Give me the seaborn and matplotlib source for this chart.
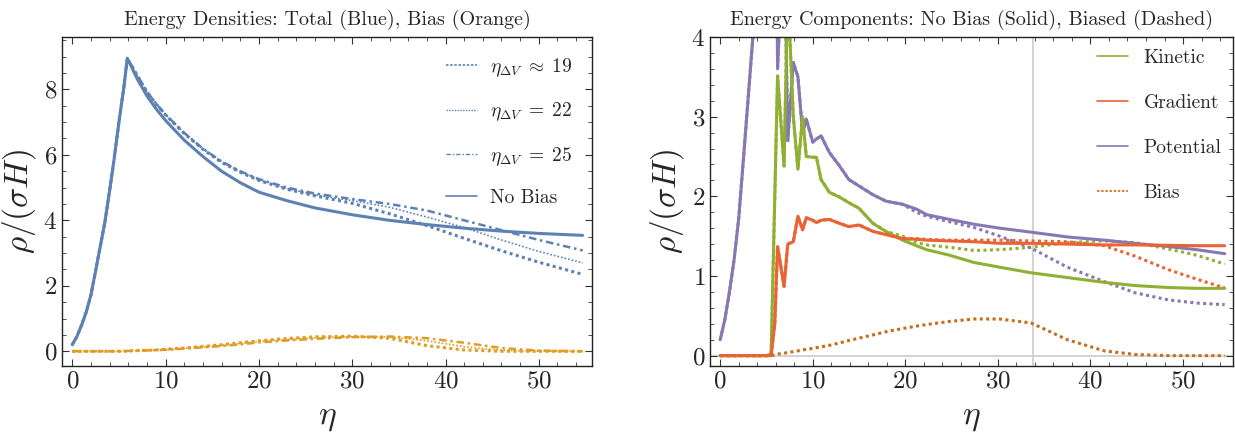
import numpy as np
import pandas as pd
import matplotlib
matplotlib.use("Agg")
import matplotlib.pyplot as plt
import seaborn as sns
from matplotlib.lines import Line2D
from matplotlib.ticker import MultipleLocator

# ---------------- data: left panel ----------------
eta_l = [0, 0.5, 1, 1.5, 2, 2.5, 3, 3.5, 4, 4.5, 5, 5.5, 5.9, 7, 8, 9, 10, 12, 14, 16, 18, 20,
         23, 26, 30, 34, 38, 42, 46, 50, 54.7]
tot_nobias = [0.2, 0.45, 0.8, 1.2, 1.72, 2.45, 3.2, 3.95, 4.9, 5.9, 7.0, 8.0, 8.95, 8.3, 7.8, 7.4,
              7.05, 6.45, 5.95, 5.5, 5.15, 4.86, 4.6, 4.38, 4.17, 4.0, 3.87, 3.76, 3.67, 3.6, 3.54]
tot_19 = [0.2, 0.45, 0.8, 1.2, 1.72, 2.45, 3.2, 3.95, 4.9, 5.9, 7.0, 8.0, 8.95, 8.4, 7.92, 7.55,
          7.22, 6.65, 6.17, 5.77, 5.47, 5.22, 4.95, 4.75, 4.52, 4.2, 3.84, 3.45, 3.07, 2.72, 2.35]
tot_22 = [0.2, 0.45, 0.8, 1.2, 1.72, 2.45, 3.2, 3.95, 4.9, 5.9, 7.0, 8.0, 8.95, 8.42, 7.93, 7.56,
          7.23, 6.67, 6.19, 5.79, 5.49, 5.24, 4.97, 4.78, 4.6, 4.4, 4.1, 3.78, 3.4, 3.05, 2.7]
tot_25 = [0.2, 0.45, 0.8, 1.2, 1.72, 2.45, 3.2, 3.95, 4.9, 5.9, 7.0, 8.0, 8.95, 8.42, 7.93, 7.56,
          7.23, 6.67, 6.19, 5.8, 5.5, 5.26, 5.0, 4.82, 4.65, 4.5, 4.3, 4.0, 3.7, 3.4, 3.08]
bias_19 = [0, 0, 0, 0, 0, 0, 0, 0, 0, 0, 0, 0, 0.01, 0.02, 0.03, 0.04, 0.06, 0.1, 0.15, 0.2, 0.26,
           0.32, 0.39, 0.44, 0.46, 0.4, 0.17, 0.04, 0.0, 0, 0]
bias_22 = [0, 0, 0, 0, 0, 0, 0, 0, 0, 0, 0, 0, 0.01, 0.02, 0.03, 0.04, 0.05, 0.09, 0.13, 0.18, 0.24,
           0.3, 0.36, 0.41, 0.45, 0.44, 0.32, 0.14, 0.03, 0, 0]
bias_25 = [0, 0, 0, 0, 0, 0, 0, 0, 0, 0, 0, 0, 0.01, 0.015, 0.025, 0.035, 0.045, 0.08, 0.12, 0.16,
           0.21, 0.27, 0.33, 0.38, 0.43, 0.45, 0.4, 0.26, 0.1, 0.02, 0]
legend_left = [r"$\eta_{\Delta V}\;\approx\;19$", r"$\eta_{\Delta V}\;=\;22$",
               r"$\eta_{\Delta V}\;=\;25$", "No Bias"]

# ---------------- data: right panel ----------------
eta_r = [0, 0.5, 1, 1.5, 2, 2.5, 3, 3.5, 4, 4.5, 5, 5.5, 5.9, 6.2, 6.9, 7.3, 7.9, 8.4, 8.9, 9.3,
         10.0, 10.4, 10.9, 11.8, 12.9, 13.9, 15, 16.5, 17.9, 19.7, 21.2, 22.3, 24.8, 27.4, 30.2,
         33.6, 37.5, 41.5, 44.8, 48.4, 51.5, 54.5]
kin = [0, 0, 0, 0, 0, 0, 0, 0, 0, 0, 0, 0.02, 2.0, 3.51, 2.38, 4.6, 3.0, 2.34, 3.0, 2.5,
       2.49, 2.49, 2.21, 2.05, 1.99, 1.92, 1.85, 1.66, 1.56, 1.45, 1.38, 1.33, 1.26, 1.17, 1.11,
       1.04, 0.98, 0.92, 0.88, 0.855, 0.845, 0.845]
grad = [0, 0, 0, 0, 0, 0, 0, 0, 0, 0, 0, 0, 0.4, 1.37, 0.87, 1.4, 1.43, 1.75, 1.58, 1.73,
        1.70, 1.67, 1.70, 1.71, 1.66, 1.62, 1.64, 1.56, 1.52, 1.47, 1.46, 1.45, 1.44, 1.43, 1.41,
        1.41, 1.40, 1.39, 1.39, 1.385, 1.38, 1.38]
pot = [0.2, 0.45, 0.8, 1.2, 1.72, 2.45, 3.2, 3.95, 4.9, 5.9, 7.0, 8.0, 8.9, 3.6, 5.5, 2.7, 3.68, 3.5,
       2.8, 2.97, 2.68, 2.72, 2.76, 2.55, 2.38, 2.21, 2.13, 2.02, 1.94, 1.9, 1.84, 1.77, 1.71, 1.65,
       1.6, 1.55, 1.49, 1.45, 1.41, 1.37, 1.33, 1.28]
kin_b = kin[:29] + [1.5, 1.42, 1.39, 1.36, 1.32, 1.33, 1.36, 1.42, 1.44, 1.42, 1.34, 1.26, 1.15]
grad_b = grad[:30] + [1.47, 1.46, 1.45, 1.45, 1.45, 1.44, 1.43, 1.38, 1.25, 1.08, 0.96, 0.85]
pot_b = pot[:30] + [1.80, 1.75, 1.68, 1.61, 1.5, 1.35, 1.11, 0.93, 0.79, 0.7, 0.66, 0.64]
bias_r = [0, 0, 0, 0, 0, 0, 0, 0, 0, 0, 0, 0, 0.01, 0.02, 0.03, 0.04, 0.05, 0.06, 0.07, 0.08,
          0.09, 0.1, 0.11, 0.13, 0.16, 0.19, 0.22, 0.26, 0.3, 0.34, 0.37, 0.39, 0.43, 0.46, 0.46,
          0.41, 0.2, 0.06, 0.015, 0.0, 0, 0]
legend_right = ["Kinetic", "Gradient", "Potential", "Bias"]
eta_mark = 33.8

BLUE = "#5E81B5"
ORANGE = "#E19C24"
GREEN = "#8FB032"
RED = "#EB6235"
PURPLE = "#8778B3"
DORANGE = "#C56E1A"

sns.set_theme(style="ticks")
plt.rcParams["font.family"] = ["cmr10", "DejaVu Serif"]
plt.rcParams["mathtext.fontset"] = "cm"
plt.rcParams["axes.unicode_minus"] = False
plt.rcParams["axes.formatter.use_mathtext"] = True

fig = plt.figure(figsize=(12.35, 4.37), dpi=100)
W, H = 1235, 437
ax1 = fig.add_axes([62 / W, 1 - 366 / H, 530 / W, 329 / H])
ax2 = fig.add_axes([710 / W, 1 - 366 / H, 523 / W, 329 / H])

dot19 = (0, (1, 1.1))
dot22 = (0, (1, 1.2))
dd25 = (0, (3, 1.5, 1, 1.5))

# left panel
sns.lineplot(x=eta_l, y=bias_19, ax=ax1, color=ORANGE, lw=2.2, linestyle=dot19)
sns.lineplot(x=eta_l, y=bias_22, ax=ax1, color=ORANGE, lw=1.2, linestyle=dot22)
sns.lineplot(x=eta_l, y=bias_25, ax=ax1, color=ORANGE, lw=1.8, linestyle=dd25)
sns.lineplot(x=eta_l, y=tot_19, ax=ax1, color=BLUE, lw=2.2, linestyle=dot19)
sns.lineplot(x=eta_l, y=tot_22, ax=ax1, color=BLUE, lw=1.2, linestyle=dot22)
sns.lineplot(x=eta_l, y=tot_25, ax=ax1, color=BLUE, lw=1.8, linestyle=dd25)
sns.lineplot(x=eta_l, y=tot_nobias, ax=ax1, color=BLUE, lw=2.2, linestyle="-")

ax1.set_xlim(-1.1, 55.7)
ax1.set_ylim(-0.45, 9.6)
ax1.xaxis.set_major_locator(MultipleLocator(10))
ax1.xaxis.set_minor_locator(MultipleLocator(2))
ax1.yaxis.set_major_locator(MultipleLocator(2))
ax1.yaxis.set_minor_locator(MultipleLocator(0.5))
ax1.set_title("Energy Densities: Total (Blue), Bias (Orange)", fontsize=14.5, pad=9)

h1 = [Line2D([], [], color=BLUE, lw=1.2, linestyle=(0, (1.5, 1))),
      Line2D([], [], color=BLUE, lw=1.0, linestyle=(0, (1, 1))),
      Line2D([], [], color=BLUE, lw=1.0, linestyle=(0, (3, 1.5, 1, 1.5))),
      Line2D([], [], color=BLUE, lw=1.2)]
ax1.legend(h1, legend_left, loc="upper right", frameon=False, fontsize=14,
           handlelength=1.6, labelspacing=1.12, borderaxespad=0.6, handletextpad=0.7)

# right panel
ax2.axvline(eta_mark, color="#cccccc", lw=1.2, zorder=0)
ax2.axhline(0, color="#cccccc", lw=1.2, zorder=0)
dotr = (0, (1, 1.1))
sns.lineplot(x=eta_r, y=kin_b, ax=ax2, color=GREEN, lw=2.2, linestyle=dotr)
sns.lineplot(x=eta_r, y=grad_b, ax=ax2, color=RED, lw=2.2, linestyle=dotr)
sns.lineplot(x=eta_r, y=pot_b, ax=ax2, color=PURPLE, lw=2.2, linestyle=dotr)
sns.lineplot(x=eta_r, y=bias_r, ax=ax2, color=DORANGE, lw=2.2, linestyle=dotr)
sns.lineplot(x=eta_r, y=pot, ax=ax2, color=PURPLE, lw=2.2)
sns.lineplot(x=eta_r, y=kin, ax=ax2, color=GREEN, lw=2.2)
sns.lineplot(x=eta_r, y=grad, ax=ax2, color=RED, lw=2.2)

ax2.set_xlim(-1.1, 55.4)
ax2.set_ylim(-0.13, 4.0)
ax2.xaxis.set_major_locator(MultipleLocator(10))
ax2.xaxis.set_minor_locator(MultipleLocator(2))
ax2.yaxis.set_major_locator(MultipleLocator(1))
ax2.yaxis.set_minor_locator(MultipleLocator(0.2))
ax2.set_title("Energy Components: No Bias (Solid), Biased (Dashed)", fontsize=14.5, pad=9)

h2 = [Line2D([], [], color=GREEN, lw=1.2),
      Line2D([], [], color=RED, lw=1.2),
      Line2D([], [], color=PURPLE, lw=1.2),
      Line2D([], [], color=DORANGE, lw=1.2, linestyle=(0, (1.5, 1)))]
ax2.legend(h2, legend_right, loc="upper right", frameon=False, fontsize=14,
           handlelength=1.6, labelspacing=1.4, borderaxespad=0.2, handletextpad=0.8)

for ax in (ax1, ax2):
    ax.tick_params(which="both", direction="in", top=True, right=True, labelsize=18,
                   color="#333333")
    ax.tick_params(which="major", length=5, width=0.8)
    ax.tick_params(which="minor", length=3, width=0.6)
    for sp in ax.spines.values():
        sp.set_visible(True)
        sp.set_color("#222222")
        sp.set_linewidth(1.0)
    ax.set_xlabel(r"$\eta$", fontsize=24, labelpad=8)
    ax.set_ylabel(r"$\rho/(\sigma H)$", fontsize=24, labelpad=4)

fig.savefig("out.png", dpi=100)
